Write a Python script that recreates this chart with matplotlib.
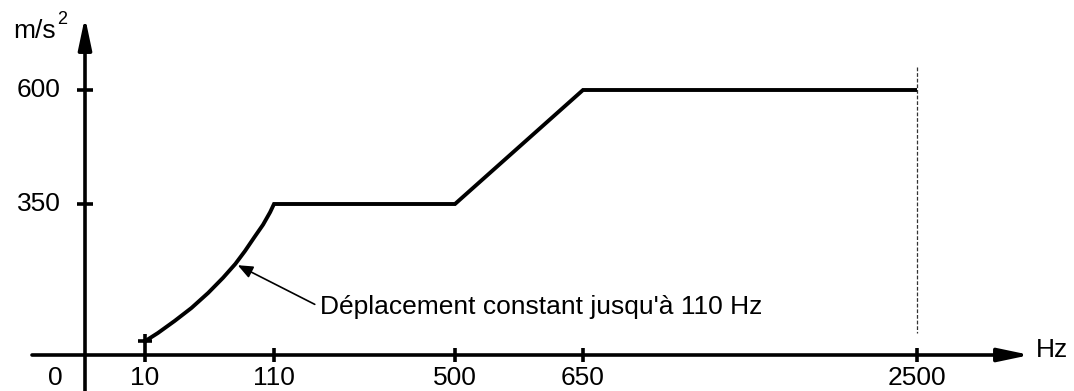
import numpy as np
import matplotlib.pyplot as plt

plt.rcParams['font.family'] = ['Liberation Sans', 'DejaVu Sans']

# Vibration profile: frequency (Hz) vs acceleration (m/s^2)
freq = [10, 20, 33, 46, 59, 70.5, 80, 87.5, 95, 101.5, 107, 110, 500, 650, 2500]
accel = [32, 51, 79, 109, 144, 179, 211, 241, 274, 302, 331, 350, 350, 600, 600]
x_ticks = [0, 10, 110, 500, 650, 2500]
x_labels = ['0', '10', '110', '500', '650', '2500']
y_ticks = [350, 600]
y_labels = ['350', '600']
note = "Déplacement constant jusqu'à 110 Hz"

W, H = 1074, 391

# Schematic axes: break values are not drawn to scale, so place them by hand
X_KNOTS = ([0, 10, 110, 500, 650, 2500], [85, 145, 274, 455, 583, 917])
Y_KNOTS = ([0, 350, 600], [36, 187, 301])


def piecewise(src, dst):
    src = np.asarray(src, float)
    dst = np.asarray(dst, float)
    s0 = (dst[1] - dst[0]) / (src[1] - src[0])
    s1 = (dst[-1] - dst[-2]) / (src[-1] - src[-2])

    def f(v):
        v = np.asarray(v, float)
        out = np.interp(v, src, dst)
        out = np.where(v < src[0], dst[0] + (v - src[0]) * s0, out)
        out = np.where(v > src[-1], dst[-1] + (v - src[-1]) * s1, out)
        return out
    return f


fx, ix = piecewise(*X_KNOTS), piecewise(X_KNOTS[1], X_KNOTS[0])
fy, iy = piecewise(*Y_KNOTS), piecewise(Y_KNOTS[1], Y_KNOTS[0])

fig = plt.figure(figsize=(W / 100, H / 100), dpi=100)
ax = fig.add_axes([0, 0, 1, 1])
ax.set_xscale('function', functions=(fx, ix))
ax.set_yscale('function', functions=(fy, iy))
ax.set_xlim(float(ix(0)), float(ix(W)))
ax.set_ylim(float(iy(0)), float(iy(H)))
ax.axis('off')

LW = 2.6
head = '-|>,head_length=0.95,head_width=0.2'

# y axis with arrow
ax.annotate('', xy=(0, 1 - 17 / H), xytext=(0, 0),
            xycoords=('data', 'axes fraction'), textcoords=('data', 'axes fraction'),
            arrowprops=dict(arrowstyle=head, mutation_scale=20, lw=LW, color='black',
                            shrinkA=0, shrinkB=0))
# x axis with arrow
ax.annotate('', xy=(1030 / W, 0), xytext=(32 / W, 0),
            xycoords=('axes fraction', 'data'), textcoords=('axes fraction', 'data'),
            arrowprops=dict(arrowstyle=head, mutation_scale=20, lw=LW, color='black',
                            shrinkA=0, shrinkB=0))

# tick marks
ax.plot(x_ticks[1:], [0] * (len(x_ticks) - 1), ls='none', marker='|', ms=10,
        mew=LW, color='black')
ax.plot([0] * len(y_ticks), y_ticks, ls='none', marker='_', ms=11, mew=LW, color='black')

# tick labels
for f, lab in zip(x_ticks, x_labels):
    dx = -21.5 if f == 0 else 0
    ax.annotate(lab, xy=(f, 0), xytext=(dx, -16.5), textcoords='offset points',
                ha='center', va='center', fontsize=19)
for v, lab in zip(y_ticks, y_labels):
    ax.annotate(lab, xy=(0, v), xytext=(-17.3, 0), textcoords='offset points',
                ha='right', va='center', fontsize=19)

# axis units
ax.text(13 / W, 1 - 38 / H, 'm/s', transform=ax.transAxes, fontsize=19, va='baseline')
ax.text(57 / W, 1 - 24 / H, '2', transform=ax.transAxes, fontsize=13, va='baseline')
ax.text(1036 / W, 1 - 357 / H, 'Hz', transform=ax.transAxes, fontsize=19, va='baseline')

# upper frequency limit
ax.plot([2500, 2500], [1 - 67 / H, 1 - 333 / H], transform=ax.get_xaxis_transform(),
        ls=(0, (3, 1.5)), lw=0.9, color='#333333')

# profile
ax.plot(freq, accel, color='black', lw=2.8, solid_joinstyle='miter', solid_capstyle='butt')
ax.plot(freq[0], accel[0], marker='+', ms=10, mew=LW, color='black')

# note on the constant-displacement part
ax.annotate(note, xy=(freq[6], accel[6]), xytext=(61, -31), textcoords='offset points',
            ha='left', va='center', fontsize=19,
            arrowprops=dict(arrowstyle='-|>,head_length=0.6,head_width=0.25',
                            mutation_scale=15, lw=1.2, color='black',
                            shrinkA=2, shrinkB=2, relpos=(0, 0.5)))

fig.savefig('out.png', dpi=100)
